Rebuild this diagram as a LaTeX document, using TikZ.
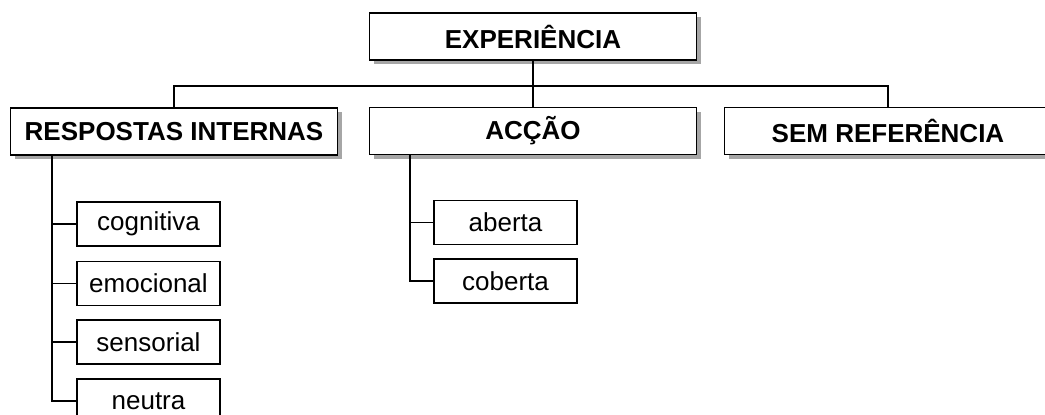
\documentclass[tikz,border=0pt]{standalone}
\usepackage{fontspec}
\setmainfont{Liberation Sans}
\usetikzlibrary{shadows}
\tikzset{
    head/.style={draw, fill=white, line width=1.6pt, inner sep=0pt,
        minimum width=327pt, minimum height=47pt,
        font=\fontsize{26}{30}\selectfont\bfseries,
        drop shadow={shadow xshift=4pt, shadow yshift=-4pt, fill=gray!70, opacity=1}},
    sub/.style={draw, fill=white, line width=1.5pt, inner sep=0pt,
        minimum width=143pt, minimum height=44pt,
        font=\fontsize{26}{30}\selectfont},
    link/.style={line width=1.6pt}
}
\begin{document}
\begin{tikzpicture}[x=1pt, y=-1pt]
        \useasboundingbox (0,0) rectangle (1045,415);
        \node[head] (exp) at (533,36.5) {EXPERIÊNCIA};
        \node[head] (resp) at (174,131.5) {RESPOSTAS INTERNAS};
        \node[head] (accao) at (533,131) {ACÇÃO};
        \node[head] (sem) at (888,131) {SEM REFERÊNCIA};
        \node[sub] (cog) at (148.5,224) {cognitiva};
        \node[sub] (emo) at (148.5,283.5) {emocional};
        \node[sub] (sen) at (148.5,342) {sensorial};
        \node[sub] (neu) at (148.5,401) {neutra};
        \node[sub] (abe) at (505.5,222.5) {aberta};
        \node[sub] (cob) at (505.5,281) {coberta};
        \coordinate (bus) at (533,86);
        \coordinate (rtrunk) at (52,155);
        \coordinate (atrunk) at (410,155);
        \draw[link] (exp.south) -- (accao.north);
        \draw[link] (resp.north) |- (bus) -| (sem.north);
        \foreach \n in {cog,emo,sen,neu}
            \draw[link] (rtrunk) |- (\n.west);
        \foreach \n in {abe,cob}
            \draw[link] (atrunk) |- (\n.west);
    \end{tikzpicture}
\end{document}
